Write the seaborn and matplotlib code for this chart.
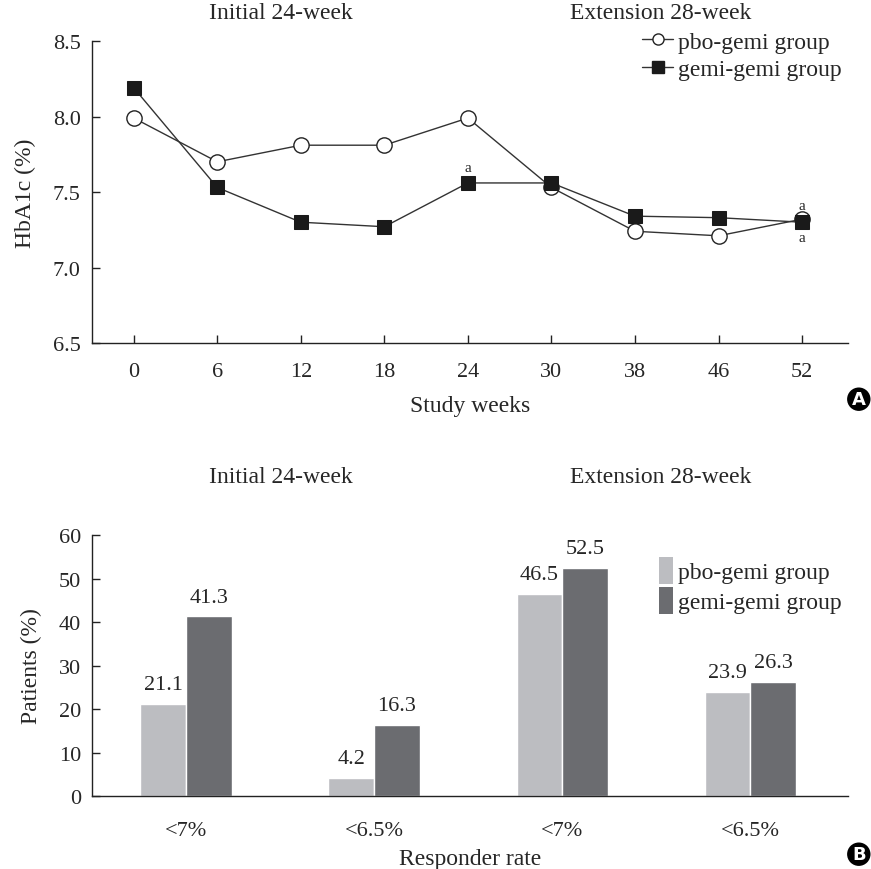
import matplotlib
matplotlib.use("Agg")
import matplotlib.pyplot as plt
import numpy as np
import pandas as pd
import seaborn as sns
from matplotlib.lines import Line2D
from matplotlib.patches import Patch

sns.set_theme(style="white")
plt.rcParams['font.family'] = ['Liberation Serif', 'DejaVu Serif']
plt.rcParams['font.size'] = 16

# Panel A data
weeks = ['0', '6', '12', '18', '24', '30', '38', '46', '52']
pbo_hba1c = [7.99, 7.70, 7.81, 7.81, 7.99, 7.53, 7.24, 7.21, 7.32]
gemi_hba1c = [8.19, 7.53, 7.30, 7.27, 7.56, 7.56, 7.34, 7.33, 7.30]

# Panel B data
responder = ['<7%', '<6.5%', '<7% ', '<6.5% ']
responder_labels = ['<7%', '<6.5%', '<7%', '<6.5%']
pbo_rate = [21.1, 4.2, 46.5, 23.9]
gemi_rate = [41.3, 16.3, 52.5, 26.3]

groups = ['pbo-gemi group', 'gemi-gemi group']
bar_colors = ['#bcbdc1', '#6b6c70']

fig = plt.figure(figsize=(8.71, 8.70), dpi=100)
ax1 = fig.add_axes([0.1056, 0.6046, 0.868, 0.3471])
ax2 = fig.add_axes([0.1056, 0.0839, 0.868, 0.3000])

# ---- Panel A: HbA1c line chart
pos = np.arange(len(weeks))
df_a = pd.DataFrame({'pos': pos, 'pbo': pbo_hba1c, 'gemi': gemi_hba1c})
sns.lineplot(data=df_a, x='pos', y='pbo', ax=ax1, color='#333333', lw=1.0,
             marker='o', markersize=11, markerfacecolor='white',
             markeredgecolor='#222222', markeredgewidth=1.0)
sns.lineplot(data=df_a, x='pos', y='gemi', ax=ax1, color='#333333', lw=1.0,
             marker='s', markersize=10, markerfacecolor='#1a1a1a',
             markeredgecolor='#1a1a1a')

ax1.set_xlim(-0.5, 8.55)
ax1.set_ylim(6.5, 8.5)
ax1.set_xticks(pos)
ax1.set_xticklabels(weeks)
ax1.set_yticks([6.5, 7.0, 7.5, 8.0, 8.5])
ax1.set_yticklabels(['6.5', '7.0', '7.5', '8.0', '8.5'])
ax1.set_xlabel('Study weeks', fontsize=17, labelpad=10)
ax1.set_ylabel('HbA1c (%)', fontsize=17, labelpad=12)

ax1.text(4, gemi_hba1c[4] + 0.06, 'a', ha='center', va='bottom', fontsize=11)
ax1.text(8, pbo_hba1c[8] + 0.05, 'a', ha='center', va='bottom', fontsize=11)
ax1.text(8, gemi_hba1c[8] - 0.06, 'a', ha='center', va='top', fontsize=11)

leg_a = [Line2D([], [], color='#333333', lw=1.0, marker='o', markersize=8,
                markerfacecolor='white', markeredgecolor='#222222'),
         Line2D([], [], color='#333333', lw=1.0, marker='s', markersize=9,
                markerfacecolor='#1a1a1a', markeredgecolor='#1a1a1a')]
ax1.legend(leg_a, groups, loc='upper right', bbox_to_anchor=(1.01, 1.08),
           frameon=False, fontsize=17, handlelength=1.3, handletextpad=0.2,
           labelspacing=0.25, borderaxespad=0.2)

# ---- Panel B: responder rate bars
df_b = pd.DataFrame({
    'responder': responder * 2,
    'rate': pbo_rate + gemi_rate,
    'group': [groups[0]] * 4 + [groups[1]] * 4,
})
sns.barplot(data=df_b, x='responder', y='rate', hue='group', order=responder,
            hue_order=groups, palette=bar_colors, width=0.485, saturation=1,
            ax=ax2, legend=False)
for cont in ax2.containers:
    ax2.bar_label(cont, fmt='%.1f', padding=7, fontsize=16)

ax2.set_xlim(-0.5, 3.52)
ax2.set_ylim(0, 60)
ax2.set_yticks(np.arange(0, 61, 10))
ax2.set_xticks(range(len(responder)))
ax2.set_xticklabels(responder_labels)
ax2.set_xlabel('Responder rate', fontsize=17, labelpad=6)
ax2.set_ylabel('Patients (%)', fontsize=17, labelpad=12)

leg_b = [Patch(facecolor=c, edgecolor='none') for c in bar_colors]
ax2.legend(leg_b, groups, loc='upper right', bbox_to_anchor=(1.01, 0.97),
           frameon=False, fontsize=17, handlelength=0.6, handleheight=1.4,
           handletextpad=0.2, labelspacing=0.1, borderaxespad=0.2)

for ax in (ax1, ax2):
    for s in ('top', 'right'):
        ax.spines[s].set_visible(False)
    for s in ('left', 'bottom'):
        ax.spines[s].set_color('#222222')
        ax.spines[s].set_linewidth(1.0)
    ax.tick_params(axis='y', direction='in', length=6, width=1, color='#222222',
                   labelsize=16, pad=8, left=True)
    ax.grid(False)
ax1.tick_params(axis='x', direction='in', length=6, width=1, color='#222222',
                bottom=True, labelsize=16, pad=14)
ax2.tick_params(axis='x', bottom=False, labelsize=16, pad=12)

# section headers
for y in (0.984, 0.451):
    fig.text(0.322, y, 'Initial 24-week', ha='center', va='center', fontsize=17)
    fig.text(0.758, y, 'Extension 28-week', ha='center', va='center', fontsize=17)

# panel letters
for y, lab in ((0.540, 'A'), (0.017, 'B')):
    fig.text(0.986, y, lab, ha='center', va='center', fontsize=13,
             fontweight='bold', color='white', family='DejaVu Sans',
             bbox=dict(boxstyle='circle,pad=0.15', facecolor='black', edgecolor='none'))

fig.savefig('out.png', dpi=100)
